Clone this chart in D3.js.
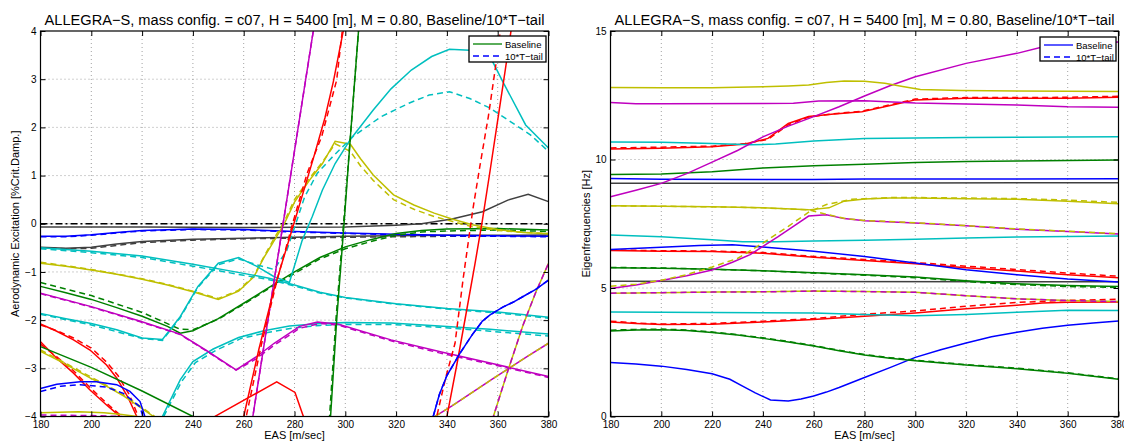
<!DOCTYPE html>
<html>
<head>
<meta charset="utf-8">
<script src="https://cdn.jsdelivr.net/npm/d3@7"></script>
<style>
  body { margin: 0; background: #fff; }
  svg { display: block; }
  text { font-family: "Liberation Sans", Arial, Helvetica, sans-serif; fill: #000; }
</style>
</head>
<body>
<div id="chart"></div>
<script>
// ---- axes ----
const easTicks = [180, 200, 220, 240, 260, 280, 300, 320, 340, 360, 380];
const excTicks = [-4, -3, -2, -1, 0, 1, 2, 3, 4];
const hzTicks = [0, 5, 10, 15];
const titleText = "ALLEGRA\u2212S, mass config. = c07, H = 5400 [m], M = 0.80, Baseline/10*T\u2212tail";

// ---- left panel: aerodynamic excitation [EAS, %crit.damp] ----
const excRef = [[180, 0], [380, 0]];
const excGrayA = [[180,-0.07],[220,-0.07],[260,-0.08],[300,-0.07],[320,-0.03],[330,0],[342,0.1],[354,0.25],[364,0.49],[372,0.61],[380,0.46]];
const excGrayB = [[180,-0.49],[190,-0.51],[200,-0.49],[210,-0.42],[220,-0.37],[240,-0.32],[260,-0.3],[280,-0.28],[300,-0.26],[320,-0.25],[340,-0.24],[380,-0.235]];
const excGrayBT = [[180,-0.5],[190,-0.52],[200,-0.51],[210,-0.45],[220,-0.39],[240,-0.34],[260,-0.31],[280,-0.3],[300,-0.28],[320,-0.27],[340,-0.26],[380,-0.25]];
const excBlueA = [[180,-0.26],[190,-0.26],[200,-0.23],[210,-0.18],[220,-0.14],[240,-0.11],[260,-0.12],[280,-0.16],[300,-0.19],[320,-0.22],[340,-0.24],[380,-0.26]];
const excBlueAT = [[180,-0.27],[190,-0.27],[200,-0.24],[210,-0.19],[220,-0.15],[240,-0.12],[260,-0.13],[280,-0.17],[300,-0.2],[320,-0.23],[340,-0.25],[380,-0.27]];
const excGreenA = [[180,-1.3],[190,-1.43],[200,-1.57],[210,-1.74],[220,-1.92],[230,-2.13],[235,-2.27],[240,-2.22],[250,-1.97],[260,-1.65],[270,-1.32],[280,-1.0],[290,-0.7],[300,-0.48],[310,-0.33],[320,-0.2],[330,-0.14],[340,-0.11],[360,-0.1],[380,-0.13]];
const excGreenAT = [[180,-1.22],[200,-1.49],[220,-1.84],[235,-2.19],[240,-2.2],[250,-1.98],[260,-1.67],[270,-1.34],[280,-1.03],[290,-0.73],[300,-0.52],[310,-0.37],[320,-0.24],[330,-0.17],[340,-0.15],[360,-0.13],[380,-0.16]];
const excYellowA = [[180,-0.82],[190,-0.88],[200,-0.96],[210,-1.05],[220,-1.15],[230,-1.27],[240,-1.41],[250,-1.57],[258,-1.4],[264,-1.1],[268,-0.7],[272,-0.35],[276,0],[280,0.45],[286,0.91],[291,1.25],[296,1.71],[302,1.65],[306,1.35],[311,1.01],[319,0.6],[327,0.39],[335,0.22],[342,0.1],[350,-0.02],[360,-0.12],[370,-0.18],[380,-0.21]];
const excYellowAT = [[180,-0.8],[190,-0.87],[200,-0.95],[210,-1.04],[220,-1.14],[230,-1.26],[240,-1.4],[250,-1.55],[258,-1.38],[264,-1.08],[268,-0.68],[272,-0.3],[276,0.05],[280,0.5],[286,0.95],[291,1.28],[296,1.66],[302,1.5],[306,1.2],[311,0.9],[319,0.5],[327,0.3],[335,0.15],[342,0.05],[350,-0.06],[360,-0.14],[370,-0.18],[380,-0.2]];
const excCyanA = [[180,-0.5],[200,-0.57],[220,-0.67],[240,-0.84],[260,-1.03],[270,-1.13],[280,-1.27],[290,-1.42],[300,-1.53],[320,-1.66],[340,-1.76],[360,-1.83],[380,-1.94]];
const excCyanAT = [[180,-0.52],[200,-0.6],[220,-0.7],[240,-0.88],[260,-1.07],[270,-1.16],[280,-1.29],[290,-1.44],[300,-1.54],[320,-1.67],[340,-1.77],[360,-1.85],[380,-1.96]];
const excCyanB = [[180,-1.86],[190,-1.97],[200,-2.07],[210,-2.2],[220,-2.37],[228,-2.4],[235,-1.93],[242,-1.3],[250,-0.82],[258,-0.7],[265,-0.88],[272,-1.1],[278,-1.22],[283,-0.35],[287,0.15],[291,0.7],[296,1.25],[302,1.75],[311,2.36],[318,2.8],[326,3.19],[334,3.47],[341,3.62],[349,3.6],[357,3.47],[362,2.95],[371,2.05],[380,1.57]];
const excCyanBT = [[180,-1.88],[200,-2.1],[220,-2.38],[228,-2.42],[235,-1.95],[242,-1.32],[250,-0.85],[258,-0.73],[265,-0.85],[272,-0.95],[277,-0.55],[281,0.08],[284,0.56],[289,1.05],[295,1.39],[303,1.81],[314,2.22],[325,2.5],[333,2.67],[341,2.74],[349,2.6],[357,2.4],[365,2.12],[373,1.84],[380,1.5]];
const excCyanC = [[226,-4.4],[228,-4],[235,-3.24],[240,-2.86],[248,-2.6],[258,-2.36],[268,-2.22],[278,-2.12],[290,-2.07],[300,-2.05],[318,-2.06],[337,-2.12],[357,-2.19],[380,-2.29]];
const excCyanCT = [[226.5,-4.4],[228.5,-4],[235.5,-3.28],[241,-2.88],[249,-2.63],[259,-2.38],[270,-2.25],[280,-2.16],[290,-2.11],[300,-2.09],[318,-2.09],[337,-2.15],[357,-2.23],[380,-2.33]];
const excMagentaA = [[180,-1.44],[200,-1.72],[219,-2.02],[235,-2.29],[245,-2.62],[257,-3.03],[265,-2.76],[272,-2.48],[282,-2.13],[289,-2.04],[297,-2.08],[318,-2.41],[337,-2.65],[357,-2.89],[380,-3.17]];
const excMagentaAT = [[180,-1.45],[200,-1.73],[219,-2.03],[235,-2.3],[245,-2.63],[257,-3.04],[265,-2.8],[272,-2.52],[282,-2.17],[290,-2.07],[297,-2.1],[318,-2.43],[337,-2.68],[357,-2.91],[380,-3.19]];
const excMagentaB = [[262,-4.55],[263.6,-4],[275.5,0],[287.4,4],[289,4.55]];
const excMagentaC = [[333,-4.6],[335.3,-4],[342,-3.78],[350,-3.5],[358,-3.22],[365,-2.98],[372,-2.74],[380,-2.48]];
const excYellowB = [[357,-4.5],[358.3,-4],[364,-3.05],[370,-2.1],[375,-1.42],[380,-0.82]];
const excRedA = [[257,-5],[260,-4],[266,-2.6],[272,-1.35],[279,-0.13],[284,0.75],[288,1.46],[292,2.2],[295.3,2.95],[299.2,4],[300.5,4.5]];
const excRedAT = [[258,-5],[261,-4],[267,-2.5],[273,-1.2],[279.5,0.05],[285,1.05],[290.7,1.81],[296.6,2.98],[298.8,4],[300,4.5]];
const excRedB = [[338,-5],[340,-4],[344,-2.9],[347.8,-1.79],[351,-0.85],[354,0.08],[357,1.1],[360.2,2.22],[363,3.2],[365.1,3.95],[366,4.3]];
const excRedBT = [[334,-5],[336,-4],[339.5,-3.2],[343.2,-2.48],[346.5,-1.1],[350.2,0.29],[353,1.2],[356.3,2.22],[359,3.2],[360.9,3.95],[362,4.4]];
const excRedC = [[245,-4.3],[248.6,-4],[273,-3.28],[280.2,-3.5],[283.5,-4],[285,-4.3]];
const excRedD = [[180,-2.08],[186,-2.22],[193,-2.41],[199.5,-2.62],[206,-2.93],[210,-3.2],[214.6,-3.62],[217.9,-4],[219,-4.2]];
const excRedDT = [[180,-2.1],[186,-2.21],[193,-2.37],[200,-2.58],[206,-2.87],[210.5,-3.15],[215,-3.55],[218.5,-4],[219.5,-4.2]];
const excRedE = [[180,-2.45],[186.4,-2.79],[193,-3.1],[199.5,-3.45],[206,-3.76],[211.3,-4],[212,-4.1]];
const excRedET = [[180,-2.5],[186.4,-2.76],[193,-3.05],[199.5,-3.4],[206,-3.72],[212,-4],[213,-4.1]];
const excGreenB = [[293,-4.5],[294.2,-4],[296.6,-2.0],[299.5,0],[302,1.8],[305.2,4],[305.8,4.4]];
const excGreenBT = [[292.6,-4.5],[293.8,-4],[296.3,-2.0],[299.3,0],[302,1.8],[305.2,4],[305.8,4.4]];
const excGreenC = [[180,-2.55],[200,-2.98],[220,-3.47],[240,-4],[245,-4.1]];
const excYellowC = [[180,-2.65],[188,-2.86],[199.5,-3.2],[207,-3.4],[213,-3.58],[219,-3.8],[224.5,-4],[226,-4.1]];
const excYellowCT = [[180,-2.62],[188,-2.84],[199.5,-3.17],[207,-3.38],[213,-3.56],[219,-3.78],[225,-4],[226.5,-4.1]];
const excYellowD = [[180,-3.92],[195,-3.9],[205,-3.92],[212,-3.96],[218,-4],[220,-4.05]];
const excMagentaD = [[180,-3.97],[200,-3.98],[212,-4.0],[215,-4.05]];
const excBlueB = [[180,-3.42],[186.4,-3.33],[195.6,-3.28],[202,-3.28],[210,-3.34],[215.2,-3.48],[219.2,-3.69],[221.1,-4],[222,-4.2]];
const excBlueBT = [[180,-3.48],[188,-3.37],[195.6,-3.34],[206,-3.39],[212.6,-3.52],[219.2,-3.8],[220.3,-4],[221,-4.2]];
const excBlueC = [[333,-4.4],[334.6,-4],[337,-3.55],[340,-3.15],[345,-2.7],[350,-2.3],[354,-2.02],[357,-1.89],[362,-1.73],[366,-1.63],[370,-1.51],[375,-1.36],[380,-1.17]];

// ---- right panel: eigenfrequencies [EAS, Hz] ----
const hzBlueA = [[180,2.1],[190,2.04],[200,1.96],[210,1.83],[220,1.66],[227,1.45],[232,1.18],[237,0.92],[243,0.64],[250,0.6],[255,0.68],[260,0.8],[265,0.95],[270,1.13],[280,1.52],[290,1.9],[300,2.3],[310,2.6],[320,2.86],[330,3.1],[340,3.28],[350,3.43],[360,3.55],[370,3.64],[380,3.72]];
const hzGreenA = [[180,3.33],[190,3.37],[200,3.38],[210,3.35],[220,3.27],[230,3.17],[240,3.04],[250,2.9],[260,2.74],[270,2.56],[280,2.39],[290,2.27],[300,2.17],[320,2.0],[340,1.86],[360,1.68],[380,1.45]];
const hzGreenAT = [[180,3.36],[190,3.39],[200,3.4],[210,3.37],[220,3.29],[230,3.19],[240,3.06],[250,2.92],[260,2.76],[270,2.58],[280,2.41],[290,2.29],[300,2.19],[320,2.02],[340,1.88],[360,1.7],[380,1.47]];
const hzRedA = [[180,3.68],[190,3.62],[200,3.58],[220,3.59],[240,3.68],[260,3.77],[280,3.9],[300,4.03],[320,4.19],[340,4.33],[350,4.42],[360,4.45],[380,4.46]];
const hzRedAT = [[180,3.71],[190,3.64],[200,3.6],[220,3.62],[240,3.71],[260,3.81],[280,3.98],[300,4.11],[320,4.29],[340,4.44],[360,4.52],[380,4.56]];
const hzCyanA = [[180,4.07],[200,4.06],[220,4.05],[240,4.04],[260,4.03],[280,3.97],[300,3.92],[320,3.97],[340,4.06],[360,4.13],[380,4.12]];
const hzYellowA = [[180,4.8],[200,4.82],[220,4.84],[240,4.85],[260,4.88],[280,4.86],[300,4.83],[310,4.77],[320,4.7],[340,4.58],[360,4.51],[380,4.47]];
const hzGrayA = [[180,5.26],[380,5.24]];
const hzGreenB = [[180,5.79],[200,5.77],[220,5.73],[240,5.67],[260,5.59],[280,5.52],[300,5.43],[320,5.28],[340,5.17],[360,5.1],[380,5.06]];
const hzGreenBT = [[180,5.8],[200,5.78],[220,5.73],[240,5.67],[260,5.58],[280,5.5],[300,5.4],[320,5.25],[340,5.13],[360,5.06],[380,5.02]];
const hzRedB = [[180,6.46],[200,6.43],[220,6.42],[240,6.35],[260,6.2],[280,6.07],[300,5.94],[320,5.79],[340,5.66],[360,5.52],[380,5.4]];
const hzRedBT = [[180,6.48],[200,6.45],[220,6.44],[240,6.38],[260,6.23],[280,6.11],[300,5.99],[320,5.85],[340,5.72],[360,5.58],[380,5.46]];
const hzBlueB = [[180,6.5],[200,6.59],[215,6.65],[228,6.68],[240,6.6],[260,6.43],[280,6.23],[300,5.97],[320,5.71],[340,5.52],[360,5.35],[380,5.23]];
const hzCyanB = [[180,7.06],[200,6.99],[220,6.88],[232,6.8],[245,6.8],[260,6.83],[280,6.86],[300,6.9],[320,6.95],[340,6.98],[360,7.0],[380,7.02]];
const hzMagentaA = [[180,4.98],[190,5.12],[200,5.29],[210,5.48],[220,5.7],[228,6.0],[235,6.3],[240,6.62],[246,7.0],[252,7.4],[258,7.8],[265,7.85],[272,7.7],[280,7.62],[300,7.53],[320,7.42],[340,7.29],[360,7.2],[380,7.1]];
const hzYellowB = [[180,8.2],[200,8.18],[220,8.16],[240,8.12],[258,8.04],[266,8.12],[272,8.38],[280,8.46],[290,8.5],[300,8.5],[320,8.47],[340,8.45],[360,8.38],[380,8.28]];
const hzYellowBT = [[180,5.07],[190,5.15],[200,5.3],[210,5.52],[220,5.82],[230,6.15],[240,6.75],[250,7.4],[258,7.95],[265,8.25],[275,8.45],[290,8.52],[300,8.52],[320,8.5],[340,8.48],[360,8.42],[380,8.33]];
const hzYellowCT = [[180,8.2],[200,8.18],[220,8.16],[240,8.12],[258,8.04],[265,7.87],[272,7.71],[280,7.63],[300,7.54],[320,7.43],[340,7.3],[360,7.21],[380,7.11]];
const hzGrayB = [[180,9.08],[260,9.08],[380,9.1]];
const hzBlueC = [[180,9.26],[200,9.23],[240,9.22],[260,9.22],[280,9.24],[380,9.25]];
const hzGreenC = [[180,9.42],[200,9.44],[220,9.52],[240,9.67],[260,9.76],[280,9.82],[300,9.88],[320,9.92],[340,9.94],[360,9.96],[380,9.98]];
const hzRedC = [[180,10.41],[200,10.44],[220,10.5],[233,10.6],[242,10.82],[250,11.4],[258,11.67],[268,11.77],[279,11.86],[291,12.12],[300,12.32],[320,12.38],[340,12.38],[360,12.38],[380,12.42]];
const hzRedCT = [[180,10.45],[200,10.48],[220,10.52],[233,10.62],[242,10.78],[250,11.35],[258,11.65],[268,11.78],[279,11.88],[291,12.15],[300,12.35],[320,12.41],[340,12.41],[360,12.42],[380,12.46]];
const hzCyanC = [[180,10.68],[200,10.67],[220,10.62],[235,10.57],[245,10.6],[260,10.72],[280,10.82],[300,10.84],[320,10.86],[340,10.87],[360,10.88],[380,10.89]];
const hzMagentaB = [[180,8.55],[190,8.8],[200,9.07],[210,9.45],[220,9.9],[230,10.35],[240,10.88],[250,11.3],[260,11.67],[270,12.05],[280,12.47],[290,12.87],[300,13.22],[320,13.74],[340,14.13],[350,14.38],[360,14.45],[370,14.52],[380,14.57]];
const hzMagentaC = [[180,12.22],[190,12.17],[200,12.17],[240,12.18],[252,12.19],[262,12.28],[280,12.29],[300,12.2],[320,12.16],[340,12.12],[360,12.05],[380,12.03]];
const hzYellowC = [[180,12.8],[200,12.79],[220,12.79],[240,12.83],[250,12.86],[258,12.9],[265,13.0],[272,13.05],[280,13.04],[288,12.97],[295,12.84],[302,12.72],[318,12.68],[340,12.67],[360,12.66],[380,12.65]];

// ---- colours (MATLAB defaults) ----
const BLUE = "#0000ff", GREEN = "#008000", RED = "#ff0000", CYAN = "#00bfbf",
      MAGENTA = "#bf00bf", YELLOW = "#bfbf00", GRAY = "#404040", BLACK = "#000000";
const DASH = "6,4";

const leftCurves = [
  { d: excRef, c: BLACK, dash: "7,3,2,3" },
  { d: excGrayA, c: GRAY }, { d: excGrayB, c: GRAY }, { d: excGrayBT, c: GRAY, dash: DASH },
  { d: excBlueA, c: BLUE }, { d: excBlueAT, c: BLUE, dash: DASH },
  { d: excGreenA, c: GREEN }, { d: excGreenAT, c: GREEN, dash: DASH },
  { d: excYellowA, c: YELLOW }, { d: excYellowAT, c: YELLOW, dash: DASH },
  { d: excCyanA, c: CYAN }, { d: excCyanAT, c: CYAN, dash: DASH },
  { d: excCyanB, c: CYAN }, { d: excCyanBT, c: CYAN, dash: DASH },
  { d: excCyanC, c: CYAN }, { d: excCyanCT, c: CYAN, dash: DASH },
  { d: excMagentaA, c: MAGENTA }, { d: excMagentaAT, c: MAGENTA, dash: DASH },
  { d: excMagentaB, c: MAGENTA }, { d: excMagentaB, c: MAGENTA, dash: DASH },
  { d: excMagentaC, c: MAGENTA }, { d: excMagentaC, c: YELLOW, dash: DASH },
  { d: excYellowB, c: YELLOW }, { d: excYellowB, c: MAGENTA, dash: DASH },
  { d: excRedA, c: RED }, { d: excRedAT, c: RED, dash: DASH },
  { d: excRedB, c: RED }, { d: excRedBT, c: RED, dash: DASH },
  { d: excRedC, c: RED },
  { d: excRedD, c: RED }, { d: excRedDT, c: RED, dash: DASH },
  { d: excRedE, c: RED }, { d: excRedET, c: RED, dash: DASH },
  { d: excGreenB, c: GREEN }, { d: excGreenBT, c: GREEN, dash: DASH },
  { d: excGreenC, c: GREEN },
  { d: excYellowC, c: YELLOW }, { d: excYellowCT, c: YELLOW, dash: DASH },
  { d: excYellowD, c: YELLOW }, { d: excMagentaD, c: MAGENTA, dash: DASH },
  { d: excBlueB, c: BLUE }, { d: excBlueBT, c: BLUE, dash: DASH },
  { d: excBlueC, c: BLUE }, { d: excBlueC, c: BLUE, dash: DASH }
];

const rightCurves = [
  { d: hzBlueA, c: BLUE },
  { d: hzGreenA, c: GREEN }, { d: hzGreenAT, c: GREEN, dash: DASH },
  { d: hzRedA, c: RED }, { d: hzRedAT, c: RED, dash: DASH },
  { d: hzCyanA, c: CYAN },
  { d: hzYellowA, c: YELLOW }, { d: hzYellowA, c: MAGENTA, dash: DASH },
  { d: hzGrayA, c: GRAY },
  { d: hzGreenB, c: GREEN }, { d: hzGreenBT, c: GREEN, dash: DASH },
  { d: hzRedB, c: RED }, { d: hzRedBT, c: RED, dash: DASH },
  { d: hzBlueB, c: BLUE },
  { d: hzCyanB, c: CYAN },
  { d: hzMagentaA, c: MAGENTA },
  { d: hzYellowB, c: YELLOW },
  { d: hzYellowBT, c: YELLOW, dash: DASH }, { d: hzYellowCT, c: YELLOW, dash: DASH },
  { d: hzGrayB, c: GRAY },
  { d: hzBlueC, c: BLUE },
  { d: hzGreenC, c: GREEN },
  { d: hzRedC, c: RED }, { d: hzRedCT, c: RED, dash: DASH },
  { d: hzCyanC, c: CYAN },
  { d: hzMagentaB, c: MAGENTA },
  { d: hzMagentaC, c: MAGENTA },
  { d: hzYellowC, c: YELLOW }
];

const svg = d3.select("#chart").append("svg")
  .attr("width", 1124)
  .attr("height", 441);
const defs = svg.append("defs");

function drawPanel(p) {
  const g = svg.append("g").attr("class", p.id);
  const x = d3.scaleLinear().domain([180, 380]).range([p.x0, p.x1]);
  const y = d3.scaleLinear().domain(p.yDomain).range([p.y1, p.y0]);
  const h = p.y1 - p.y0, w = p.x1 - p.x0;

  // dotted grid
  const grid = g.append("g").attr("class", "grid");
  grid.selectAll("line.gx")
    .data(easTicks.slice(1, -1))
    .join("line")
      .attr("x1", d => x(d)).attr("x2", d => x(d))
      .attr("y1", p.y0).attr("y2", p.y1);
  grid.selectAll("line.gy")
    .data(p.yGrid)
    .join("line")
      .attr("x1", p.x0).attr("x2", p.x1)
      .attr("y1", d => y(d)).attr("y2", d => y(d));
  grid.selectAll("line")
    .attr("stroke", "#8a8a8a")
    .attr("stroke-width", 0.8)
    .attr("stroke-dasharray", "1,3");

  defs.append("clipPath").attr("id", p.id + "-clip")
    .append("rect")
      .attr("x", p.x0).attr("y", p.y0)
      .attr("width", w).attr("height", h);

  const line = d3.line().x(d => x(d[0])).y(d => y(d[1]));
  g.append("g")
    .attr("clip-path", `url(#${p.id}-clip)`)
    .selectAll("path")
    .data(p.curves)
    .join("path")
      .attr("d", d => line(d.d))
      .attr("fill", "none")
      .attr("stroke", d => d.c)
      .attr("stroke-width", 1.5)
      .attr("stroke-dasharray", d => d.dash || null);

  // axes, ticks pointing inward as in MATLAB
  const bottom = g.append("g").attr("transform", `translate(0,${p.y1})`)
    .call(d3.axisBottom(x).tickValues(easTicks).tickSize(-5).tickPadding(4));
  const top = g.append("g").attr("transform", `translate(0,${p.y0})`)
    .call(d3.axisTop(x).tickValues(easTicks).tickSize(-5).tickFormat(""));
  const left = g.append("g").attr("transform", `translate(${p.x0},0)`)
    .call(d3.axisLeft(y).tickValues(p.yTicks).tickSize(-5).tickPadding(4));
  const right = g.append("g").attr("transform", `translate(${p.x1},0)`)
    .call(d3.axisRight(y).tickValues(p.yTicks).tickSize(-5).tickFormat(""));
  [bottom, top, left, right].forEach(a => {
    a.select(".domain").remove();
    a.selectAll("line").attr("stroke", "#000");
    a.selectAll("text").style("font-size", "10px").attr("fill", "#000");
  });

  g.append("rect")
    .attr("x", p.x0).attr("y", p.y0)
    .attr("width", w).attr("height", h)
    .attr("fill", "none")
    .attr("stroke", "#000")
    .attr("stroke-width", 1.2);

  // title, scaled to MATLAB width
  const t = g.append("text")
    .attr("x", (p.x0 + p.x1) / 2).attr("y", 25)
    .attr("text-anchor", "middle")
    .style("font-size", "14px")
    .text(titleText);
  const len = t.node().getComputedTextLength();
  t.style("font-size", (14 * 500 / len) + "px");

  g.append("text")
    .attr("x", (p.x0 + p.x1) / 2).attr("y", 439)
    .attr("text-anchor", "middle")
    .style("font-size", "11px")
    .text("EAS [m/sec]");

  g.append("text")
    .attr("transform", `translate(${p.yLabelX},${(p.y0 + p.y1) / 2}) rotate(-90)`)
    .attr("text-anchor", "middle")
    .style("font-size", "11px")
    .text(p.yLabel);

  // legend
  const lg = p.legend;
  const leg = g.append("g").attr("transform", `translate(${lg.x},${lg.y})`);
  leg.append("rect")
    .attr("width", lg.w).attr("height", lg.h)
    .attr("fill", "#fff")
    .attr("stroke", "#000")
    .attr("stroke-width", 1.3);
  lg.entries.forEach((e, i) => {
    const yy = 8 + i * 12;
    leg.append("line")
      .attr("x1", 4).attr("x2", 33)
      .attr("y1", yy).attr("y2", yy)
      .attr("stroke", e.c)
      .attr("stroke-width", 1.3)
      .attr("stroke-dasharray", e.dash || null);
    leg.append("text")
      .attr("x", 36).attr("y", yy + 3.5)
      .style("font-size", "9.5px")
      .text(e.label);
  });
}

drawPanel({
  id: "exc", x0: 40.5, x1: 548.5, y0: 31, y1: 416.5,
  yDomain: [-4, 4], yTicks: excTicks, yGrid: [-3, -2, -1, 0, 1, 2, 3],
  yLabel: "Aerodynamic Excitation [%Crit.Damp.]", yLabelX: 19,
  curves: leftCurves,
  legend: { x: 469, y: 36, w: 77, h: 26, entries: [
    { c: GREEN, label: "Baseline" },
    { c: BLUE, dash: DASH, label: "10*T\u2212tail" }
  ] }
});

drawPanel({
  id: "hz", x0: 610.5, x1: 1118.5, y0: 31, y1: 416.5,
  yDomain: [0, 15], yTicks: hzTicks, yGrid: [5, 10],
  yLabel: "Eigenfrequencies [Hz]", yLabelX: 590,
  curves: rightCurves,
  legend: { x: 1040, y: 37, w: 76, h: 24, entries: [
    { c: BLUE, label: "Baseline" },
    { c: BLUE, dash: DASH, label: "10*T\u2212tail" }
  ] }
});
</script>
</body>
</html>
